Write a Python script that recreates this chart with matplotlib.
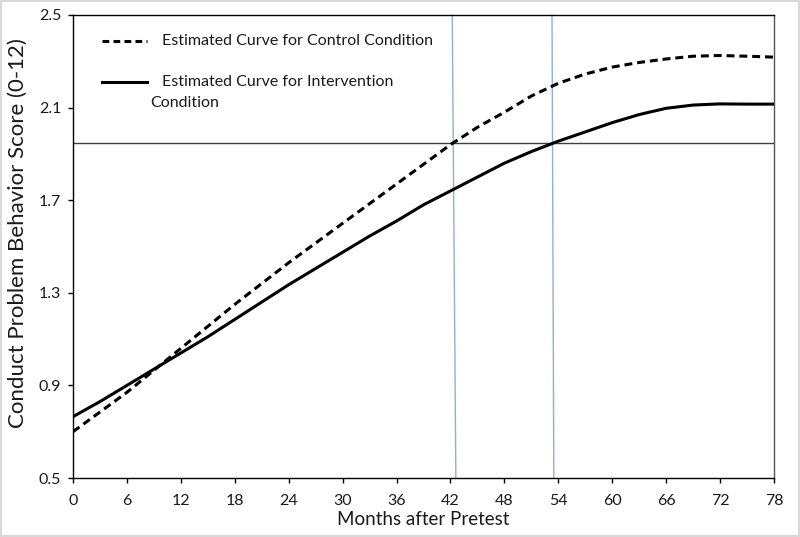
import matplotlib
matplotlib.use("Agg")
import matplotlib.pyplot as plt
from matplotlib.lines import Line2D
from matplotlib.patches import Rectangle

# ---- data ----
months = [0, 3, 6, 9, 12, 15, 18, 21, 24, 27, 30, 33, 36, 39, 42, 45, 48, 51, 54,
          57, 60, 63, 66, 69, 72, 75, 78]
control = [0.70, 0.785, 0.87, 0.965, 1.06, 1.155, 1.25, 1.34, 1.43, 1.515, 1.60,
           1.685, 1.77, 1.855, 1.94, 2.015, 2.08, 2.15, 2.205, 2.245, 2.275, 2.295,
           2.31, 2.322, 2.325, 2.322, 2.318]
intervention = [0.765, 0.83, 0.90, 0.97, 1.04, 1.11, 1.185, 1.26, 1.335, 1.405,
                1.475, 1.545, 1.61, 1.68, 1.74, 1.80, 1.86, 1.91, 1.955, 1.995,
                2.035, 2.07, 2.097, 2.111, 2.116, 2.115, 2.115]
threshold = 1.948
marker_top_x = [42.2, 53.3]
marker_bottom_x = [42.6, 53.5]
xticks = list(range(0, 79, 6))
yticks = [0.5, 0.9, 1.3, 1.7, 2.1, 2.5]
ytick_labels = ["0.5", "0.9", "1.3", "1.7", "2.1", "2.5"]
legend_labels = ["Estimated Curve for Control Condition",
                 "Estimated Curve for Intervention", "Condition"]

plt.rcParams['font.family'] = ['Lato', 'DejaVu Sans']

fig = plt.figure(figsize=(8.0, 5.37), dpi=100)
ax = fig.add_axes([73/800, 1-478/537, (774-73)/800, (478-15)/537])

ax.set_xlim(0, 78)
ax.set_ylim(0.5, 2.5)

# threshold line and vertical markers
ax.axhline(threshold, color='#404040', lw=1.0, zorder=2)
for xt, xb in zip(marker_top_x, marker_bottom_x):
    ax.plot([xt, xb], [2.5, 0.5], color='#8fb0d4', lw=1.0, zorder=2, clip_on=False)

ax.plot(months, control, color='black', lw=2.2, linestyle=(0, (2.6, 1.6)), zorder=3)
ax.plot(months, intervention, color='black', lw=2.2, linestyle='-', zorder=3)

ax.set_xticks(xticks)
ax.set_yticks(yticks)
ax.set_yticklabels(ytick_labels)
ax.tick_params(axis='both', direction='out', length=3.5, width=1, labelsize=11.5,
               color='black', labelcolor='#1a1a1a')
ax.tick_params(axis='x', pad=8)
ax.tick_params(axis='y', pad=5)

for s in ['left', 'bottom', 'top']:
    ax.spines[s].set_color('black')
    ax.spines[s].set_linewidth(1.0)
ax.spines['right'].set_color('#555555')
ax.spines['right'].set_linewidth(1.0)

ax.set_xlabel("Months after Pretest", fontsize=13.5, color='#1a1a1a', labelpad=2)
ax.set_ylabel("Conduct Problem Behavior Score (0-12)", fontsize=16,
              color='#1a1a1a', va='center', ha='center')
ax.yaxis.set_label_coords((18-73)/701, (478-233)/463)

# legend drawn manually
def fy(py):
    return 1 - py/537
def fx(px):
    return px/800

fig.add_artist(Line2D([fx(102), fx(147)], [fy(41), fy(41)], color='black', lw=2.2,
                      linestyle=(0, (2.2, 1.4)), transform=fig.transFigure))
fig.add_artist(Line2D([fx(102), fx(147)], [fy(82), fy(82)], color='black', lw=2.2,
                      transform=fig.transFigure))
fig.text(fx(162), fy(41), legend_labels[0], fontsize=11.5, va='center', ha='left',
         color='#1a1a1a')
fig.text(fx(162), fy(82), legend_labels[1], fontsize=11.5, va='center', ha='left',
         color='#1a1a1a')
fig.text(fx(150), fy(103), legend_labels[2], fontsize=11.5, va='center', ha='left',
         color='#1a1a1a')

# light outer frame
fig.add_artist(Rectangle((0.001, 0.001), 0.998, 0.998, transform=fig.transFigure,
                         fill=False, edgecolor='#d9d9d9', lw=1.5))

fig.savefig("out.png", dpi=100)
